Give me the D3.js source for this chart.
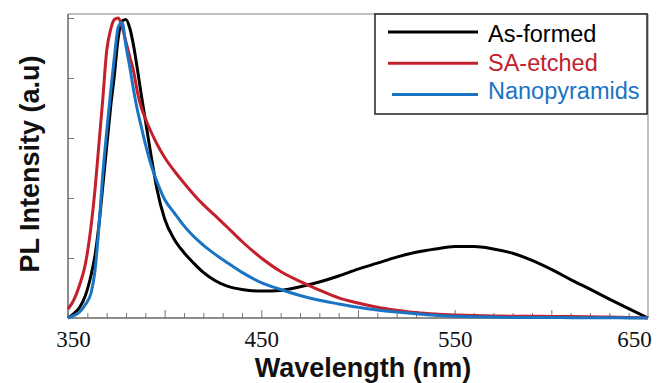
<!DOCTYPE html>
<html>
<head>
<meta charset="utf-8">
<script src="https://cdn.jsdelivr.net/npm/d3@7"></script>
<style>
  html, body { margin: 0; padding: 0; background: #fff; }
  svg { display: block; }
</style>
</head>
<body>
<div id="chart"></div>
<script>
// wavelength grid (nm) shared by the three spectra
const wavelengths = [350, 353, 356, 359, 362, 364, 366, 368, 370, 372, 374, 376, 378, 380, 382, 384, 386, 388, 390, 393,
  396, 400, 405, 410, 415, 420, 426, 432, 440, 450, 460, 470, 480, 490, 500, 510, 520, 530, 540, 550,
  560, 570, 580, 590, 600, 610, 620, 630, 640, 650];

// normalised PL intensity
const asFormed = [0.0, 0.015, 0.035, 0.075, 0.145, 0.21, 0.31, 0.44, 0.57, 0.70, 0.81, 0.935, 0.99, 0.995, 0.965, 0.905, 0.825, 0.74, 0.66, 0.54,
  0.43, 0.33, 0.262, 0.218, 0.183, 0.152, 0.125, 0.107, 0.095, 0.09, 0.092, 0.104, 0.12, 0.14, 0.163, 0.183, 0.203, 0.219, 0.23, 0.238,
  0.238, 0.23, 0.216, 0.192, 0.162, 0.128, 0.096, 0.063, 0.031, 0.0];
const saEtched = [0.03, 0.06, 0.11, 0.18, 0.31, 0.43, 0.58, 0.73, 0.89, 0.96, 0.995, 1.0, 0.97, 0.92, 0.87, 0.82, 0.75, 0.70, 0.665, 0.62,
  0.58, 0.535, 0.49, 0.45, 0.412, 0.378, 0.342, 0.305, 0.255, 0.2, 0.155, 0.122, 0.093, 0.067, 0.05, 0.036, 0.026, 0.018, 0.013, 0.01,
  0.008, 0.007, 0.006, 0.006, 0.005, 0.005, 0.004, 0.003, 0.002, 0.0];
const nanopyramids = [0.0, 0.008, 0.02, 0.045, 0.085, 0.16, 0.305, 0.48, 0.62, 0.75, 0.87, 0.97, 0.985, 0.905, 0.835, 0.757, 0.69, 0.635, 0.58, 0.51,
  0.455, 0.395, 0.35, 0.307, 0.272, 0.243, 0.213, 0.186, 0.152, 0.118, 0.095, 0.075, 0.059, 0.047, 0.036, 0.027, 0.02, 0.014, 0.009, 0.006,
  0.004, 0.003, 0.002, 0.002, 0.002, 0.001, 0.001, 0.001, 0.0, 0.0];

const seriesNames = ["As-formed", "SA-etched", "Nanopyramids"];
const seriesColors = ["#000000", "#c4202b", "#1a74c4"];
const xTickValues = [350, 450, 550, 650];
const yTickValues = [0, 0.2, 0.4, 0.6, 0.8, 1.0];

const W = 657, H = 383;
const mLeft = 68, mRight = 648, mTop = 14, mBottom = 318;

const svg = d3.select("#chart").append("svg")
  .attr("width", W)
  .attr("height", H);

const x = d3.scaleLinear().domain([350, 650]).range([mLeft, mRight]);
// 1.0 sits on the top tick, a little below the frame
const y = d3.scaleLinear().domain([0, 1]).range([mBottom, 18]);

// minor ticks every 10 nm, longer every 50 nm (pointing inward)
svg.append("g")
  .attr("transform", "translate(0," + mBottom + ")")
  .call(d3.axisBottom(x).tickValues(d3.range(360, 650, 10).filter(d => d % 50)).tickSize(-5).tickFormat(""))
  .call(g => g.select(".domain").remove())
  .call(g => g.selectAll(".tick line").attr("stroke", "#777"));
svg.append("g")
  .attr("transform", "translate(0," + mBottom + ")")
  .call(d3.axisBottom(x).tickValues([400, 450, 500, 550, 600]).tickSize(-8).tickFormat(""))
  .call(g => g.select(".domain").remove())
  .call(g => g.selectAll(".tick line").attr("stroke", "#777"));

// tick labels
svg.append("g")
  .attr("transform", "translate(0," + mBottom + ")")
  .call(d3.axisBottom(x).tickValues(xTickValues).tickSize(0).tickPadding(0))
  .call(g => g.select(".domain").remove())
  .call(g => g.selectAll(".tick text")
    .attr("y", 29)
    .attr("dy", null)
    .attr("dx", (d, i) => i == 0 ? 5 : (i == xTickValues.length - 1 ? -14 : 0))
    .attr("fill", "#111")
    .style("font-family", "'Liberation Serif', 'Times New Roman', serif")
    .style("font-size", "23px"));

// y ticks, no labels
svg.append("g")
  .attr("transform", "translate(" + mLeft + ",0)")
  .call(d3.axisLeft(y).tickValues(yTickValues.slice(1)).tickSize(-6).tickFormat(""))
  .call(g => g.select(".domain").remove())
  .call(g => g.selectAll(".tick line").attr("stroke", "#777"));

// frame: light top/right, darker left/bottom
svg.append("line").attr("x1", mLeft).attr("x2", mRight).attr("y1", mTop).attr("y2", mTop)
  .attr("stroke", "#aaa").attr("stroke-width", 1.5);
svg.append("line").attr("x1", mRight).attr("x2", mRight).attr("y1", mTop).attr("y2", mBottom)
  .attr("stroke", "#aaa").attr("stroke-width", 1.5);
svg.append("line").attr("x1", mLeft).attr("x2", mLeft).attr("y1", mTop).attr("y2", mBottom)
  .attr("stroke", "#666").attr("stroke-width", 1.5);
svg.append("line").attr("x1", mLeft).attr("x2", mRight).attr("y1", mBottom).attr("y2", mBottom)
  .attr("stroke", "#666").attr("stroke-width", 1.5);

// spectra
const series = [asFormed, saEtched, nanopyramids].map((vals, i) => ({
  name: seriesNames[i],
  color: seriesColors[i],
  values: wavelengths.map((w, j) => ({w: w, v: vals[j]}))
}));

const line = d3.line()
  .x(d => x(d.w))
  .y(d => y(d.v))
  .curve(d3.curveMonotoneX);

svg.selectAll(".spectrum")
  .data(series)
  .enter()
  .append("path")
    .attr("class", "spectrum")
    .attr("fill", "none")
    .attr("stroke", d => d.color)
    .attr("stroke-width", 3)
    .attr("stroke-linejoin", "round")
    .attr("d", d => line(d.values));

// legend
const legend = svg.append("g");
legend.append("rect")
  .attr("x", 375).attr("y", 14)
  .attr("width", 272).attr("height", 100)
  .attr("fill", "#fff")
  .attr("stroke", "#222")
  .attr("stroke-width", 1.5);

series.forEach((s, i) => {
  legend.append("line")
    .attr("x1", i == 2 ? 392 : 388).attr("x2", 478)
    .attr("y1", 32 + i * 31.3).attr("y2", 32 + i * 31.3)
    .attr("stroke", s.color)
    .attr("stroke-width", 3);
  legend.append("text")
    .attr("x", 488)
    .attr("y", 41.7 + i * 28.8)
    .attr("fill", s.color)
    .style("font-family", "'Liberation Sans', Arial, sans-serif")
    .style("font-size", "23.5px")
    .text(s.name);
});

// axis titles
svg.append("text")
  .attr("x", 363)
  .attr("y", 377)
  .attr("text-anchor", "middle")
  .attr("fill", "#111")
  .style("font-family", "'Liberation Sans', Arial, sans-serif")
  .style("font-weight", "bold")
  .style("font-size", "27px")
  .text("Wavelength (nm)");

svg.append("text")
  .attr("transform", "translate(39,164) rotate(-90)")
  .attr("text-anchor", "middle")
  .attr("fill", "#111")
  .style("font-family", "'Liberation Sans', Arial, sans-serif")
  .style("font-weight", "bold")
  .style("font-size", "27px")
  .text("PL Intensity (a.u)");
</script>
</body>
</html>
